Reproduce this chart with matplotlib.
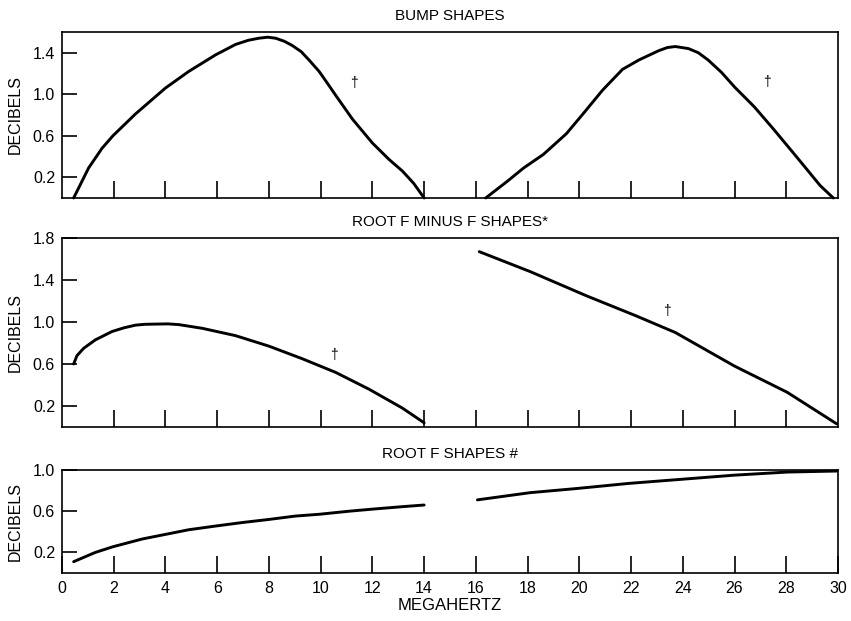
"""
Attenuation shape curves: bump, root-f-minus-f and root-f shapes vs frequency.
"""

import matplotlib

matplotlib.use("Agg")
import matplotlib.pyplot as plt  # noqa: E402

plt.rcParams["font.family"] = ["Liberation Sans", "DejaVu Sans"]

# ---------------------------------------------------------------------------
# Data
# ---------------------------------------------------------------------------

bump1_mhz = [0.45, 0.75, 1.03, 1.55, 1.97, 2.84, 4.0, 4.9, 5.94, 6.71, 7.2, 7.61,
             7.95, 8.26, 8.6, 8.9, 9.25, 9.55, 9.94, 10.25, 10.58, 11.23, 12.0,
             12.65, 13.16, 13.6, 14.0]
bump1_db = [0.0, 0.15, 0.29, 0.48, 0.60, 0.81, 1.06, 1.22, 1.38, 1.48, 1.52, 1.54,
            1.55, 1.54, 1.51, 1.47, 1.41, 1.33, 1.22, 1.11, 0.99, 0.76, 0.53,
            0.37, 0.26, 0.14, 0.0]

bump2_mhz = [16.38, 17.21, 17.85, 18.61, 19.5, 20.14, 20.9, 21.67, 22.3, 23.07,
             23.4, 23.71, 24.22, 24.6, 24.98, 25.5, 26.0, 26.76, 27.52, 28.42,
             29.31, 29.82]
bump2_db = [0.0, 0.16, 0.29, 0.42, 0.62, 0.81, 1.04, 1.24, 1.33, 1.42,
            1.45, 1.46, 1.44, 1.40, 1.33, 1.21, 1.07, 0.88, 0.66, 0.39,
            0.12, 0.0]

rfmf1_mhz = [0.45, 0.58, 0.84, 1.29, 1.94, 2.4, 2.84, 3.2, 3.61, 4.1, 4.52, 5.42,
             6.71, 8.0, 9.29, 10.58, 11.87, 13.16, 14.0]
rfmf1_db = [0.60, 0.68, 0.75, 0.83, 0.91, 0.945, 0.97, 0.978, 0.98, 0.982, 0.975,
            0.94, 0.87, 0.77, 0.65, 0.52, 0.36, 0.18, 0.04]

rfmf2_mhz = [16.13, 18.1, 20.27, 22.18, 23.71, 26.0, 28.04, 29.95]
rfmf2_db = [1.67, 1.48, 1.25, 1.06, 0.90, 0.58, 0.33, 0.03]

rootf1_mhz = [0.45, 1.29, 1.97, 3.1, 4.0, 4.9, 5.94, 6.97, 8.0, 9.03, 9.94,
              11.1, 12.0, 13.16, 14.0]
rootf1_db = [0.11, 0.20, 0.255, 0.33, 0.375, 0.42, 0.456, 0.49, 0.52, 0.553,
             0.57, 0.60, 0.62, 0.644, 0.66]

rootf2_mhz = [16.06, 18.1, 19.89, 21.92, 23.96, 26.0, 28.04, 29.95]
rootf2_db = [0.71, 0.78, 0.82, 0.87, 0.91, 0.95, 0.98, 0.99]

# dagger note positions (mhz, db) per panel
bump_daggers = [(11.29, 1.11), (27.27, 1.12)]
rfmf_daggers = [(10.52, 0.69), (23.39, 1.10)]

panel_titles = ["BUMP SHAPES", "ROOT F MINUS F SHAPES*", "ROOT F SHAPES #"]
panel_yticks = [[0.2, 0.6, 1.0, 1.4], [0.2, 0.6, 1.0, 1.4, 1.8], [0.2, 0.6, 1.0]]
panel_ymax = [1.6, 1.8, 1.0]
inner_xticks = list(range(2, 30, 2))
bottom_xticks = list(range(0, 32, 2))

# ---------------------------------------------------------------------------
# Figure
# ---------------------------------------------------------------------------

W, H = 851, 621
fig = plt.figure(figsize=(W / 100, H / 100), dpi=100)

# axes boxes in pixels: (top, bottom)
boxes = [(32, 198), (238, 427), (470, 573)]
left_px, right_px = 62, 838

axes = []
for top, bot in boxes:
    ax = fig.add_axes([left_px / W, 1 - bot / H, (right_px - left_px) / W, (bot - top) / H])
    axes.append(ax)

curves = [
    [(bump1_mhz, bump1_db), (bump2_mhz, bump2_db)],
    [(rfmf1_mhz, rfmf1_db), (rfmf2_mhz, rfmf2_db)],
    [(rootf1_mhz, rootf1_db), (rootf2_mhz, rootf2_db)],
]

for i, ax in enumerate(axes):
    for xs, ys in curves[i]:
        ax.plot(xs, ys, color="black", linewidth=2.1, solid_capstyle="round",
                solid_joinstyle="round", clip_on=False)
    ax.set_xlim(0, 30)
    ax.set_ylim(0, panel_ymax[i])
    ax.set_yticks(panel_yticks[i])
    ax.set_yticklabels([f"{v:.1f}" for v in panel_yticks[i]], fontsize=11.5)
    ax.tick_params(axis="y", direction="in", length=11, width=1.2, pad=5)
    ax.tick_params(axis="x", direction="in", length=12, width=1.2, pad=6)
    if i < 2:
        ax.set_xticks(inner_xticks)
        ax.set_xticklabels([])
    else:
        ax.set_xticks(bottom_xticks)
        ax.set_xticklabels([str(v) for v in bottom_xticks], fontsize=11.5)
    for sp in ax.spines.values():
        sp.set_linewidth(1.2)

    # panel title and y label
    top, bot = boxes[i]
    fig.text((left_px + right_px) / 2 / W, 1 - (top - 16) / H, panel_titles[i],
             ha="center", va="center", fontsize=11)
    fig.text(15 / W, 1 - (top + bot) / 2 / H, "DECIBELS", rotation=90,
             ha="center", va="center", fontsize=11.5)

for x, y in bump_daggers:
    axes[0].text(x, y, "†", ha="center", va="center", fontsize=10)
for x, y in rfmf_daggers:
    axes[1].text(x, y, "†", ha="center", va="center", fontsize=10)

fig.text((left_px + right_px) / 2 / W, 1 - 605 / H, "MEGAHERTZ",
         ha="center", va="center", fontsize=12)

fig.savefig("out.png", dpi=100)
plt.close(fig)
